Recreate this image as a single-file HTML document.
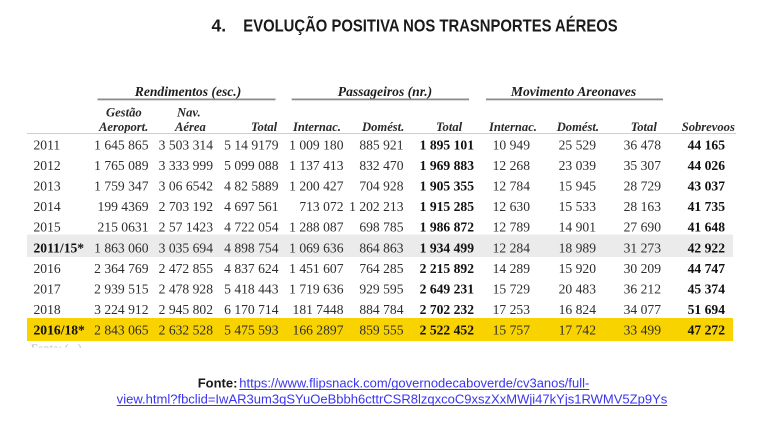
<!DOCTYPE html>
<html><head><meta charset="utf-8"><style>
html,body{margin:0;padding:0;background:#fff;}
svg{display:block;}
.d{font-family:"Liberation Serif",serif;font-size:13.6px;fill:#2e2e2e;}
.b{font-weight:bold;fill:#111;}
.h{font-family:"Liberation Serif",serif;font-size:12.6px;font-weight:bold;font-style:italic;fill:#2a2a2a;}
.g{font-family:"Liberation Serif",serif;font-size:13.6px;font-weight:bold;font-style:italic;fill:#1e1e1e;}
</style></head><body>
<svg width="764" height="428" viewBox="0 0 764 428" xmlns="http://www.w3.org/2000/svg">
<rect width="764" height="428" fill="#fff"/>
<!-- Title -->
<text x="211.5" y="31.7" font-family="Liberation Sans, sans-serif" font-weight="bold" font-size="17.5" fill="#1a1a1a">4.</text>
<text x="243.3" y="31.7" font-family="Liberation Sans, sans-serif" font-weight="bold" font-size="17.5" fill="#1a1a1a" textLength="374.4" lengthAdjust="spacingAndGlyphs">EVOLUÇÃO POSITIVA NOS TRASNPORTES AÉREOS</text>

<!-- group headers -->
<text class="g" x="188" y="96" text-anchor="middle">Rendimentos (esc.)</text>
<text class="g" x="385" y="96" text-anchor="middle">Passageiros (nr.)</text>
<text class="g" x="573.5" y="96" text-anchor="middle">Movimento Areonaves</text>
<rect x="97.5" y="98.5" width="178" height="1.8" fill="#8c8c8c"/>
<rect x="291.7" y="98.5" width="177.3" height="1.8" fill="#8c8c8c"/>
<rect x="486" y="98.5" width="177" height="1.8" fill="#8c8c8c"/>

<!-- column headers -->
<text class="h" x="106" y="116.5">Gestão</text>
<text class="h" x="177" y="116.5">Nav.</text>
<text class="h" x="99" y="131">Aeroport.</text>
<text class="h" x="175" y="131">Aérea</text>
<text class="h" x="251" y="131">Total</text>
<text class="h" x="293" y="131">Internac.</text>
<text class="h" x="362" y="131">Domést.</text>
<text class="h" x="436" y="131">Total</text>
<text class="h" x="489" y="131">Internac.</text>
<text class="h" x="556.7" y="131">Domést.</text>
<text class="h" x="630.7" y="131">Total</text>
<text class="h" x="681.7" y="131">Sobrevoos</text>
<rect x="27" y="133" width="709" height="1" fill="#cfcfcf"/>

<!-- bands -->
<rect x="27" y="234.5" width="706" height="22.5" fill="#ebebeb"/>
<rect x="27" y="318" width="706" height="23" fill="#f9d300"/>

<!-- year column -->
<g class="d" fill="#222">
<text x="33.5" y="149.3">2011</text>
<text x="33.5" y="169.9">2012</text>
<text x="33.5" y="190.5">2013</text>
<text x="33.5" y="211.1">2014</text>
<text x="33.5" y="231.7">2015</text>
<text x="33.5" y="252.3" class="b">2011/15*</text>
<text x="33.5" y="272.9">2016</text>
<text x="33.5" y="293.5">2017</text>
<text x="33.5" y="314.1">2018</text>
<text x="33.5" y="334.7" class="b">2016/18*</text>
</g>

<!-- Gestão -->
<g class="d" text-anchor="end" transform="translate(148.5,0)">
<text y="149.3">1 645 865</text><text y="169.9">1 765 089</text><text y="190.5">1 759 347</text><text y="211.1">199 4369</text><text y="231.7">215 0631</text><text y="252.3">1 863 060</text><text y="272.9">2 364 769</text><text y="293.5">2 939 515</text><text y="314.1">3 224 912</text><text y="334.7">2 843 065</text>
</g>
<!-- Nav -->
<g class="d" text-anchor="end" transform="translate(213,0)">
<text y="149.3">3 503 314</text><text y="169.9">3 333 999</text><text y="190.5">3 06 6542</text><text y="211.1">2 703 192</text><text y="231.7">2 57 1423</text><text y="252.3">3 035 694</text><text y="272.9">2 472 855</text><text y="293.5">2 478 928</text><text y="314.1">2 945 802</text><text y="334.7">2 632 528</text>
</g>
<!-- Total rend -->
<g class="d" text-anchor="end" transform="translate(278.5,0)">
<text y="149.3">5 14 9179</text><text y="169.9">5 099 088</text><text y="190.5">4 82 5889</text><text y="211.1">4 697 561</text><text y="231.7">4 722 054</text><text y="252.3">4 898 754</text><text y="272.9">4 837 624</text><text y="293.5">5 418 443</text><text y="314.1">6 170 714</text><text y="334.7">5 475 593</text>
</g>
<!-- Internac pass -->
<g class="d" text-anchor="end" transform="translate(343.5,0)">
<text y="149.3">1 009 180</text><text y="169.9">1 137 413</text><text y="190.5">1 200 427</text><text y="211.1">713 072</text><text y="231.7">1 288 087</text><text y="252.3">1 069 636</text><text y="272.9">1 451 607</text><text y="293.5">1 719 636</text><text y="314.1">181 7448</text><text y="334.7">166 2897</text>
</g>
<!-- Domest pass -->
<g class="d" text-anchor="end" transform="translate(403.5,0)">
<text y="149.3">885 921</text><text y="169.9">832 470</text><text y="190.5">704 928</text><text y="211.1">1 202 213</text><text y="231.7">698 785</text><text y="252.3">864 863</text><text y="272.9">764 285</text><text y="293.5">929 595</text><text y="314.1">884 784</text><text y="334.7">859 555</text>
</g>
<!-- Total pass -->
<g class="d b" text-anchor="end" transform="translate(474,0)">
<text y="149.3">1 895 101</text><text y="169.9">1 969 883</text><text y="190.5">1 905 355</text><text y="211.1">1 915 285</text><text y="231.7">1 986 872</text><text y="252.3">1 934 499</text><text y="272.9">2 215 892</text><text y="293.5">2 649 231</text><text y="314.1">2 702 232</text><text y="334.7">2 522 452</text>
</g>
<!-- Mov Internac -->
<g class="d" text-anchor="end" transform="translate(530,0)">
<text y="149.3">10 949</text><text y="169.9">12 268</text><text y="190.5">12 784</text><text y="211.1">12 630</text><text y="231.7">12 789</text><text y="252.3">12 284</text><text y="272.9">14 289</text><text y="293.5">15 729</text><text y="314.1">17 253</text><text y="334.7">15 757</text>
</g>
<!-- Mov Domest -->
<g class="d" text-anchor="end" transform="translate(596,0)">
<text y="149.3">25 529</text><text y="169.9">23 039</text><text y="190.5">15 945</text><text y="211.1">15 533</text><text y="231.7">14 901</text><text y="252.3">18 989</text><text y="272.9">15 920</text><text y="293.5">20 483</text><text y="314.1">16 824</text><text y="334.7">17 742</text>
</g>
<!-- Mov Total -->
<g class="d" text-anchor="end" transform="translate(661,0)">
<text y="149.3">36 478</text><text y="169.9">35 307</text><text y="190.5">28 729</text><text y="211.1">28 163</text><text y="231.7">27 690</text><text y="252.3">31 273</text><text y="272.9">30 209</text><text y="293.5">36 212</text><text y="314.1">34 077</text><text y="334.7">33 499</text>
</g>
<!-- Sobrevoos -->
<g class="d b" text-anchor="end" transform="translate(725,0)">
<text y="149.3">44 165</text><text y="169.9">44 026</text><text y="190.5">43 037</text><text y="211.1">41 735</text><text y="231.7">41 648</text><text y="252.3">42 922</text><text y="272.9">44 747</text><text y="293.5">45 374</text><text y="314.1">51 694</text><text y="334.7">47 272</text>
</g>

<!-- cut-off text under table -->
<text x="31" y="352" font-family="Liberation Serif, serif" font-size="12" fill="#b5b5b5">Fonte: (...)</text>
<rect x="0" y="347.5" width="764" height="20" fill="#fff"/>

<!-- Fonte -->
<text x="197.7" y="387.5" font-family="Liberation Sans, sans-serif" font-weight="bold" font-size="13" fill="#1a1a1a">Fonte:</text>
<text x="239.3" y="387.5" font-family="Liberation Sans, sans-serif" font-size="13" fill="#3a35ee" textLength="350" lengthAdjust="spacingAndGlyphs">https://www.flipsnack.com/governodecaboverde/cv3anos/full-</text>
<rect x="239.3" y="389" width="350" height="1" fill="#3a35ee"/>
<text x="116.7" y="403.5" font-family="Liberation Sans, sans-serif" font-size="13" fill="#3a35ee" textLength="550.6" lengthAdjust="spacingAndGlyphs">view.html?fbclid=IwAR3um3qSYuOeBbbh6cttrCSR8lzqxcoC9xszXxMWji47kYjs1RWMV5Zp9Ys</text>
<rect x="116.7" y="405" width="550.6" height="1" fill="#3a35ee"/>
</svg>
</body></html>
